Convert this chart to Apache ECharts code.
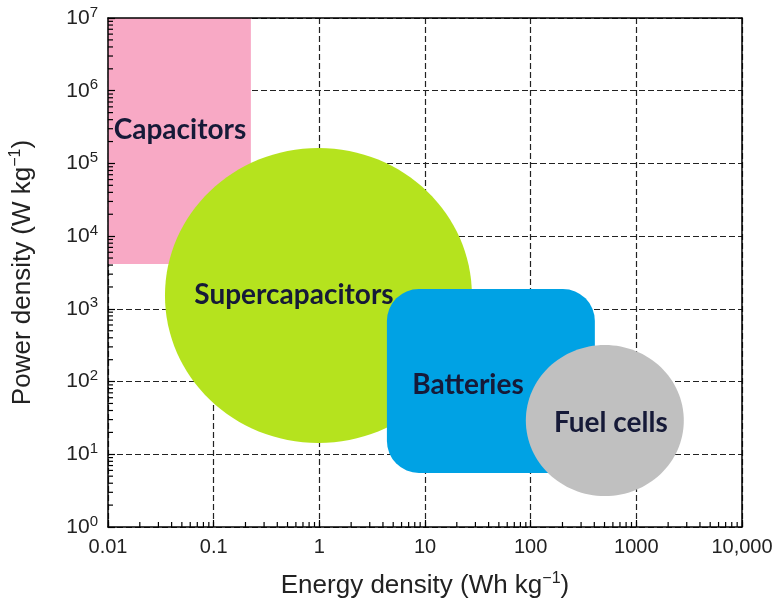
<!DOCTYPE html>
<html><head><meta charset="utf-8">
<script src="https://cdn.jsdelivr.net/npm/echarts@6/dist/echarts.min.js"></script>
<style>html,body{margin:0;padding:0;background:#fff}#c{width:783px;height:610px}</style>
</head><body><div id="c"></div>
<script>
// ---- data ----
const categories = ['Capacitors', 'Supercapacitors', 'Batteries', 'Fuel cells'];
const xMin = [0.01, 0.0346, 4.36, 90];      // Wh/kg
const xMax = [0.225, 27.8, 405, 2813];
const yMin = [4150, 14.3, 5.53, 2.67];      // W/kg
const yMax = [1e7, 1.63e5, 1878, 319];
const labelX = [0.048, 0.575, 25.5, 574];
const labelY = [2.9e5, 1553, 89.8, 27];
const xTickLabels = ['0.01', '0.1', '1', '10', '100', '1000', '10,000'];
const yTickExponents = ['0', '1', '2', '3', '4', '5', '6', '7'];
const xDecades = [0.01, 0.1, 1, 10, 100, 1000];
const yDecades = [1, 10, 100, 1000, 1e4, 1e5, 1e6];
const minorMultipliers = [2, 3, 4, 5, 6, 7, 8, 9];

// ---- styles ----
const shapeKinds = ['rect', 'ellipse', 'roundRect', 'ellipse'];
const shapeColors = ['#f8a9c5', '#b5e31e', '#00a2e4', '#c0c0c0'];
const X_MIN = 0.01, X_MAX = 10000, Y_MIN = 1, Y_MAX = 1e7;
const axisFont = 'Liberation Sans';

const shapeData = categories.map((c, i) => ({ name: c, value: [xMin[i], xMax[i], yMin[i], yMax[i]] }));
const labelData = categories.map((c, i) => ({ name: c, value: [labelX[i], labelY[i]] }));
const xMinorData = [];
xDecades.forEach(d => minorMultipliers.forEach(m => xMinorData.push([m * d, Y_MIN])));
const yMinorData = [];
yDecades.forEach(d => minorMultipliers.forEach(m => yMinorData.push([X_MIN, m * d])));

function renderShape(params, api) {
  const i = params.dataIndex;
  const p0 = api.coord([api.value(0), api.value(3)]);
  const p1 = api.coord([api.value(1), api.value(2)]);
  const w = p1[0] - p0[0], h = p1[1] - p0[1];
  const style = { fill: shapeColors[i], stroke: null };
  if (shapeKinds[i] === 'ellipse') {
    return { type: 'ellipse', shape: { cx: p0[0] + w / 2, cy: p0[1] + h / 2, rx: w / 2, ry: h / 2 }, style };
  }
  return { type: 'rect', shape: { x: p0[0], y: p0[1], width: w, height: h, r: shapeKinds[i] === 'roundRect' ? 32 : 0 }, style };
}
function renderLabel(params, api) {
  const p = api.coord([api.value(0), api.value(1)]);
  return { type: 'text', style: { text: categories[params.dataIndex], x: p[0], y: p[1], align: 'center', verticalAlign: 'middle',
    fontFamily: 'Lato', fontWeight: 'bold', fontSize: 28, fill: '#161a38' } };
}
function renderXMinor(params, api) {
  const p = api.coord([api.value(0), api.value(1)]);
  return { type: 'line', shape: { x1: p[0], y1: p[1], x2: p[0], y2: p[1] - 5 }, style: { stroke: '#000', lineWidth: 1.2 } };
}
function renderYMinor(params, api) {
  const p = api.coord([api.value(0), api.value(1)]);
  return { type: 'line', shape: { x1: p[0], y1: p[1], x2: p[0] + 5, y2: p[1] }, style: { stroke: '#000', lineWidth: 1.2 } };
}

const lineAxis = { show: true, onZero: false, lineStyle: { color: '#000', width: 1.5 } };
const dash = { show: true, lineStyle: { color: '#222', width: 1.2, type: [6, 3] } };
const none = { show: false };
const titleRich = {
  n: { fontFamily: axisFont, fontSize: 26, color: '#222', lineHeight: 30 },
  s: { fontFamily: axisFont, fontSize: 16, color: '#222', verticalAlign: 'top' }
};

const chart = echarts.init(document.getElementById('c'), null, { renderer: 'canvas' });
chart.setOption({
  animation: false,
  backgroundColor: '#fff',
  grid: { left: 108, right: 41, top: 18, bottom: 83, containLabel: false, outerBoundsMode: 'none' },
  xAxis: [
    { type: 'log', min: X_MIN, max: X_MAX, position: 'bottom', z: 3,
      axisLine: lineAxis, axisTick: { show: true, inside: true, length: 7, lineStyle: { color: '#000', width: 1.2 } },
      axisLabel: { margin: 10, fontFamily: axisFont, fontSize: 20, color: '#222',
        formatter: v => xTickLabels[Math.round(Math.log10(v)) + 2] },
      splitLine: none,
      name: '{n|Energy density (Wh kg}{s|−1}{n|)}', nameLocation: 'middle', nameGap: 44,
      nameTextStyle: { rich: titleRich } },
    { type: 'log', min: X_MIN, max: X_MAX, position: 'top', z: 3, axisLine: lineAxis, axisTick: none, axisLabel: none, splitLine: none },
    { type: 'log', min: X_MIN, max: X_MAX, position: 'bottom', z: 0, axisLine: none, axisTick: none, axisLabel: none, splitLine: dash }
  ],
  yAxis: [
    { type: 'log', min: Y_MIN, max: Y_MAX, position: 'left', z: 3,
      axisLine: lineAxis, axisTick: { show: true, inside: true, length: 7, lineStyle: { color: '#000', width: 1.2 } },
      axisLabel: { margin: 10, formatter: v => '{b|10}{e|' + yTickExponents[Math.round(Math.log10(v))] + '}',
        rich: { b: { fontFamily: axisFont, fontSize: 21, color: '#222', lineHeight: 26 },
                e: { fontFamily: axisFont, fontSize: 15, color: '#222', verticalAlign: 'top' } } },
      splitLine: none,
      name: '{n|Power density (W kg}{s|−1}{n|)}', nameLocation: 'middle', nameGap: 70, nameRotate: 90,
      nameTextStyle: { rich: titleRich } },
    { type: 'log', min: Y_MIN, max: Y_MAX, position: 'right', z: 3, axisLine: lineAxis, axisTick: none, axisLabel: none, splitLine: none },
    { type: 'log', min: Y_MIN, max: Y_MAX, position: 'left', z: 0, axisLine: none, axisTick: none, axisLabel: none, splitLine: dash }
  ],
  series: [
    { type: 'custom', name: 'regions', renderItem: renderShape, data: shapeData, z: 2, silent: true,
      encode: { x: [0, 1], y: [2, 3] } },
    { type: 'custom', name: 'labels', renderItem: renderLabel, data: labelData, z: 5, silent: true,
      encode: { x: 0, y: 1 } },
    { type: 'custom', name: 'xMinor', renderItem: renderXMinor, data: xMinorData, z: 4, silent: true },
    { type: 'custom', name: 'yMinor', renderItem: renderYMinor, data: yMinorData, z: 4, silent: true }
  ]
});
</script></body></html>
